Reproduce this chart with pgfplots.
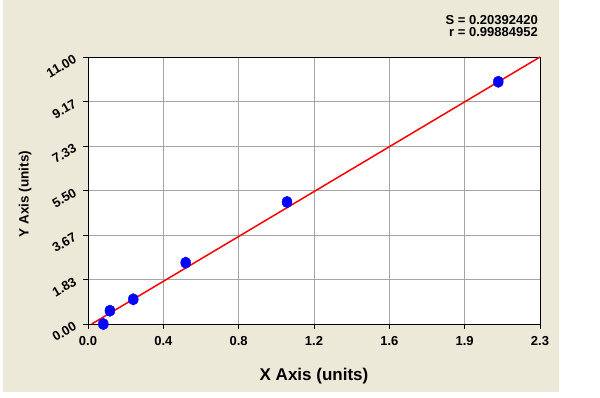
\documentclass[border=0pt]{standalone}
\usepackage{pgfplots}
\pgfplotsset{compat=1.18}
\usepackage{fontspec}
\setmainfont{Liberation Sans}
\definecolor{bg}{RGB}{236,233,216}
\definecolor{gridc}{RGB}{165,165,165}
\begin{document}
\begin{tikzpicture}[x=1pt,y=1pt]
\useasboundingbox (0,0) rectangle (600,397);
\fill[white] (0,0) rectangle (600,397);
\fill[bg] (3,5) rectangle (559,397);
\begin{axis}[
  at={(88pt,73pt)}, anchor=south west,
  scale only axis, width=452pt, height=267pt,
  xmin=0, xmax=2.33, ymin=0, ymax=11,
  xtick={0,0.38833,0.77667,1.165,1.55333,1.94167,2.33},
  xticklabels={0.0,0.4,0.8,1.2,1.6,1.9,2.3},
  ytick={0,1.83333,3.66667,5.5,7.33333,9.16667,11},
  yticklabels={0.00,1.83,3.67,5.50,7.33,9.17,11.00},
  minor tick num=3,
  tick align=outside, xtick pos=bottom, ytick pos=left,
  major tick length=5pt, minor tick length=3pt,
  grid=major, major grid style={gridc, line width=0.9pt},
  axis line style={black, line width=0.8pt},
  tick style={black, line width=0.8pt},
  ticklabel style={font=\fontsize{13}{15}\selectfont\bfseries},
  xticklabel style={yshift=-4pt},
  yticklabel style={inner sep=0pt, xshift=-10pt, yshift=3pt, rotate=30, anchor=north east},
  xlabel={X Axis (units)}, ylabel={Y Axis (units)},
  xlabel style={font=\fontsize{17}{20}\selectfont\bfseries, at={(axis description cs:0.5,-0.195)}, anchor=center},
  ylabel style={font=\fontsize{13.5}{16}\selectfont\bfseries, at={(axis description cs:-0.139,0.487)}, anchor=center},
  clip=false, axis background/.style={fill=white},
]
\addplot[red, line width=1.5pt] coordinates {(0.019,0) (2.33,11)};
\addplot[only marks, mark=*, color=blue, mark options={fill=blue, draw=blue, yscale=1.15}, mark size=5pt]
  coordinates {(0.079,0.0) (0.113,0.548) (0.2335,1.018) (0.5036,2.525) (1.026,5.026) (2.115,9.98)};
\end{axis}
\node[anchor=base east, inner sep=0, font=\fontsize{13}{15}\selectfont\bfseries] at (538,372) {S = 0.20392420};
\node[anchor=base east, inner sep=0, font=\fontsize{13}{15}\selectfont\bfseries] at (538,360) {r = 0.99884952};
\end{tikzpicture}
\end{document}
